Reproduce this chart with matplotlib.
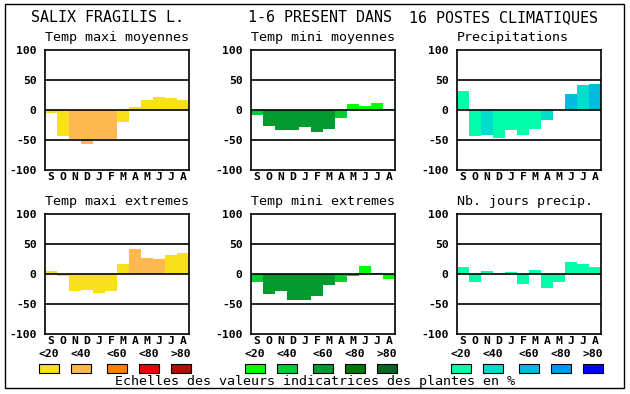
import matplotlib
matplotlib.use("Agg")
import matplotlib.pyplot as plt
from matplotlib.patches import Rectangle

W, H = 630, 394

months = ["S", "O", "N", "D", "J", "F", "M", "A", "M", "J", "J", "A"]
yticks = [100, 50, 0, -50, -100]
scale_labels = ["<20", "<40", "<60", "<80", ">80"]

# colour scales (one per column of panels)
temp_max_colors = ["#f8e11b", "#ffb84f", "#ff7f00", "#ee0000", "#aa1100"]
temp_min_colors = ["#00ff00", "#00cc33", "#009a2e", "#007700", "#006622"]
precip_colors = ["#00ffaa", "#00ddcc", "#00bbdd", "#0099ee", "#0000ff"]

# values per month (S..A) and class of indicator value (0..4)
tmax_moy = [-5, -44, -49, -56, -49, -49, -20, 5, 16, 22, 20, 16]
tmax_moy_cls = [0, 0, 1, 1, 1, 1, 0, 0, 0, 0, 0, 0]
tmin_moy = [-8, -26, -33, -34, -28, -36, -31, -14, 10, 7, 12, 2]
tmin_moy_cls = [1, 2, 2, 2, 2, 2, 2, 1, 0, 0, 0, 0]
precip = [32, -44, -41, -46, -34, -41, -31, -16, 0, 26, 42, 44]
precip_cls = [0, 0, 1, 0, 0, 0, 0, 1, 0, 2, 1, 2]
tmax_ext = [5, -3, -28, -27, -32, -28, 17, 42, 27, 25, 32, 35]
tmax_ext_cls = [0, 0, 0, 0, 0, 0, 0, 1, 1, 1, 0, 0]
tmin_ext = [-13, -33, -28, -43, -44, -36, -18, -13, -3, 14, 2, -8]
tmin_ext_cls = [1, 2, 2, 2, 2, 2, 2, 1, 1, 0, 1, 0]
nb_jours = [12, -13, 5, 0, 3, -16, 7, -24, -13, 20, 17, 12]
nb_jours_cls = [0] * 12

panels = [
    ("Temp maxi moyennes", tmax_moy, tmax_moy_cls, temp_max_colors, 45, 50),
    ("Temp mini moyennes", tmin_moy, tmin_moy_cls, temp_min_colors, 251, 50),
    ("Precipitations", precip, precip_cls, precip_colors, 457, 50),
    ("Temp maxi extremes", tmax_ext, tmax_ext_cls, temp_max_colors, 45, 214),
    ("Temp mini extremes", tmin_ext, tmin_ext_cls, temp_min_colors, 251, 214),
    ("Nb. jours precip.", nb_jours, nb_jours_cls, precip_colors, 457, 214),
]

MONO = "DejaVu Sans Mono"
fig = plt.figure(figsize=(W / 100, H / 100), dpi=100)


def fx(x):
    return x / W


def fy(y):
    return 1 - y / H


# outer frame
fig.add_artist(Rectangle((fx(4.5), fy(388)), fx(619.5), 384 / H, fill=False,
                         edgecolor="black", lw=1, transform=fig.transFigure))

# header
fig.text(fx(31), fy(18), "SALIX FRAGILIS L.", family=MONO, fontsize=10.8, va="center")
fig.text(fx(248), fy(18), "1-6 PRESENT DANS", family=MONO, fontsize=10.8, va="center")
fig.text(fx(409), fy(18), "16 POSTES CLIMATIQUES", family=MONO, fontsize=10.8, va="center")

aw, ah = 144, 120
for title, vals, cls, cols, left, top in panels:
    ax = fig.add_axes([fx(left), fy(top + ah), aw / W, ah / H])
    ax.bar(range(12), vals, width=1.0, color=[cols[c] for c in cls], zorder=1)
    for g in (50, 0, -50):
        ax.axhline(g, color="black", lw=1.2, zorder=3)
    ax.set_xlim(-0.5, 11.5)
    ax.set_ylim(-100, 100)
    ax.set_yticks(yticks)
    ax.set_yticklabels([str(t) for t in yticks], family=MONO, fontweight="bold", fontsize=8.2)
    ax.set_xticks(range(12))
    ax.set_xticklabels(months, family=MONO, fontweight="bold", fontsize=8.2)
    ax.tick_params(length=0)
    ax.tick_params(axis="x", pad=1.5)
    ax.tick_params(axis="y", pad=6)
    for s in ax.spines.values():
        s.set_linewidth(1.2)
    fig.text(fx(left), fy(top - 12), title, family=MONO, fontsize=9.6, va="center")

    # colour scale legend under bottom-row panels
    if top == 214:
        for i, (lab, c) in enumerate(zip(scale_labels, cols)):
            bl = left + [-6, 26, 62, 94, 126][i]
            fig.text(fx(bl + 10), fy(354), lab, family=MONO, fontweight="bold",
                     fontsize=8.2, ha="center", va="center")
            fig.add_artist(Rectangle((fx(bl), fy(373)), 20 / W, 9 / H, facecolor=c,
                                     edgecolor="black", lw=0.8, transform=fig.transFigure))

fig.text(fx(315), fy(382), "Echelles des valeurs indicatrices des plantes en %",
         family=MONO, fontsize=9.6, ha="center", va="center")

fig.savefig("out.png", dpi=100)
